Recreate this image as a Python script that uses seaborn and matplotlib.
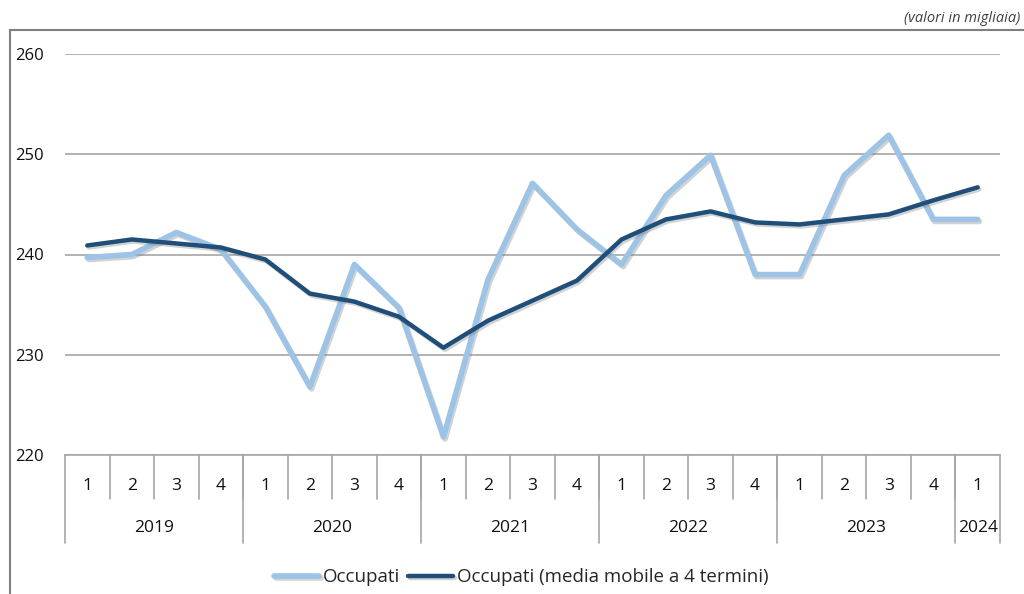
import matplotlib
matplotlib.use("Agg")
import matplotlib.pyplot as plt
import matplotlib.patheffects as pe
from matplotlib.patches import Rectangle
import seaborn as sns
import pandas as pd

years = ["2019", "2020", "2021", "2022", "2023", "2024"]
quarters_per_year = [4, 4, 4, 4, 4, 1]

occupati = [239.7, 240.0, 242.2, 240.5, 234.8, 226.8, 239.0, 234.7, 221.8, 237.5,
            247.1, 242.5, 239.0, 245.9, 249.9, 238.0, 238.0, 247.9, 251.9, 243.5, 243.5]
media_mobile = [240.9, 241.5, 241.1, 240.7, 239.5, 236.1, 235.3, 233.8, 230.7, 233.4,
                235.4, 237.4, 241.5, 243.5, 244.3, 243.2, 243.0, 243.5, 244.0, 245.4, 246.7]

label_light = "Occupati"
label_dark = "Occupati (media mobile a 4 termini)"
color_light = "#9dc3e6"
color_dark = "#1f4e79"


def build_frame():
    quarter_labels = []
    for n in quarters_per_year:
        quarter_labels += [str(q) for q in range(1, n + 1)]
    df = pd.DataFrame({
        "pos": range(len(occupati)),
        "quarter": quarter_labels,
        "occupati": occupati,
        "media": media_mobile,
    })
    return df


def draw_category_axis(ax, df):
    trans = ax.get_xaxis_transform()
    n = len(df)
    # quarter labels and small separators
    for i, q in enumerate(df["quarter"]):
        ax.text(i, -0.077, q, transform=trans, ha="center", va="center",
                fontsize=12.5, color="#111111", weight="medium", clip_on=False)
    for i in range(1, n):
        ax.plot([i - 0.5, i - 0.5], [0, -0.11], transform=trans, color="#a6a6a6",
                lw=1.2, clip_on=False)
    # year labels and long separators
    start = 0
    bounds = [-0.5]
    for year, k in zip(years, quarters_per_year):
        end = start + k
        ax.text((start + end - 1) / 2, -0.182, year, transform=trans, ha="center",
                va="center", fontsize=12.5, color="#111111", weight="medium",
                clip_on=False)
        bounds.append(end - 0.5)
        start = end
    for b in bounds:
        ax.plot([b, b], [0, -0.22], transform=trans, color="#a6a6a6", lw=1.2,
                clip_on=False)


def main():
    sns.set_style("white")
    plt.rcParams["font.family"] = ["Open Sans", "DejaVu Sans"]
    df = build_frame()

    fig = plt.figure(figsize=(10.24, 5.94), dpi=100)
    ax = fig.add_axes([65 / 1024, 139 / 594, 935 / 1024, 401 / 594])

    shadow = [pe.SimpleLineShadow(offset=(1.2, -1.5), shadow_color="#808080", alpha=0.35),
              pe.Normal()]
    sns.lineplot(data=df, x="pos", y="occupati", ax=ax, color=color_light, lw=4,
                 label=label_light, path_effects=shadow)
    sns.lineplot(data=df, x="pos", y="media", ax=ax, color=color_dark, lw=3.2,
                 label=label_dark, path_effects=shadow)

    ax.set_xlim(-0.5, len(df) - 0.5)
    ax.set_ylim(220, 260)
    ax.set_yticks([220, 230, 240, 250, 260])
    ax.yaxis.grid(True, color="#a6a6a6", lw=1.2)
    ax.set_xticks([])
    ax.set_xlabel("")
    ax.set_ylabel("")
    for side in ["left", "right", "top"]:
        ax.spines[side].set_visible(False)
    ax.spines["bottom"].set_color("#a6a6a6")
    ax.spines["bottom"].set_linewidth(1.2)
    ax.tick_params(axis="y", length=0, pad=15, labelsize=12, labelcolor="#111111")
    for lab in ax.get_yticklabels():
        lab.set_fontweight("medium")

    draw_category_axis(ax, df)

    ax.legend(loc="center", bbox_to_anchor=(0.488, -0.305), ncol=2, frameon=False,
              fontsize=13.5, handlelength=2.4, columnspacing=0.4, handletextpad=0.2)

    fig.text(1020 / 1024, 1 - 18 / 594, "(valori in migliaia)", ha="right", va="center",
             fontsize=10.5, style="italic", color="#404040")
    fig.patches.append(Rectangle((10 / 1024, -0.1), 1.2, 1 - 30 / 594 + 0.1,
                                 transform=fig.transFigure, fill=False,
                                 edgecolor="#7f7f7f", lw=1.5))

    fig.savefig("out.png", dpi=100)
    plt.close(fig)


if "__main__" == __name__:
    main()
